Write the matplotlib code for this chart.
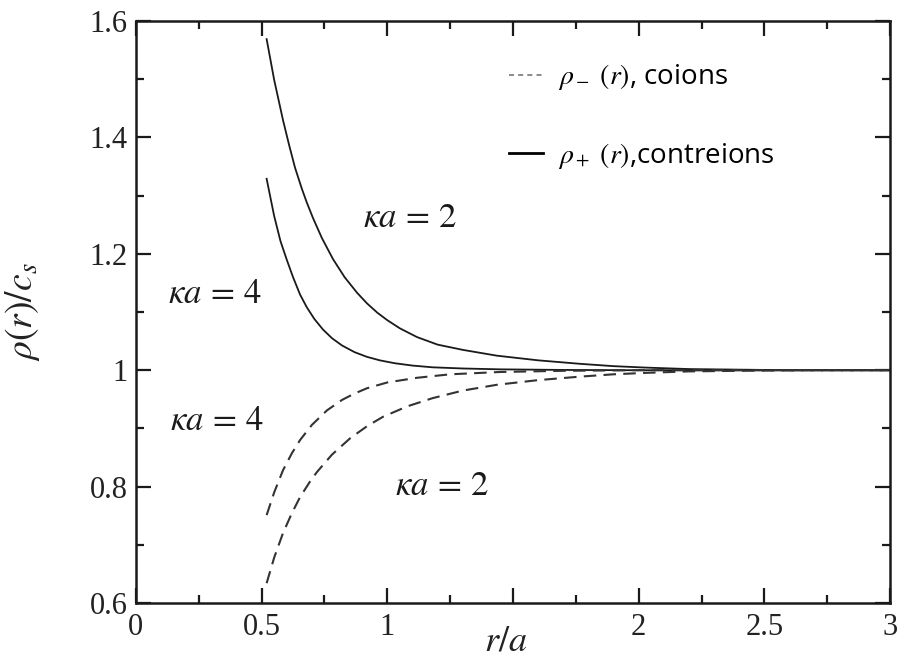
import numpy as np
import matplotlib
matplotlib.use('Agg')
import matplotlib.pyplot as plt
from matplotlib.lines import Line2D

plt.rcParams['mathtext.fontset'] = 'stix'

# values (r/a, rho/c_s)
r_plus2 = [0.52, 0.55, 0.585, 0.61, 0.633, 0.66, 0.68, 0.704, 0.74, 0.784, 0.83, 0.88, 0.919,
           0.96, 1.0, 1.05, 1.118, 1.2, 1.3, 1.436, 1.6, 1.767, 1.9, 2.03, 2.2, 2.4, 2.6, 3.0]
v_plus2 = [1.569, 1.499, 1.430, 1.386, 1.348, 1.312, 1.288, 1.262, 1.227, 1.191, 1.160, 1.133, 1.115,
           1.099, 1.086, 1.072, 1.057, 1.044, 1.035, 1.025, 1.017, 1.011, 1.007, 1.0045, 1.002, 1.001, 1.0, 1.0]

r_plus4 = [0.52, 0.55, 0.575, 0.60, 0.625, 0.653, 0.68, 0.71, 0.744, 0.78, 0.82, 0.87, 0.919,
           0.97, 1.03, 1.1, 1.18, 1.3, 1.45, 1.7, 2.0, 3.0]
v_plus4 = [1.329, 1.265, 1.222, 1.190, 1.160, 1.130, 1.108, 1.088, 1.070, 1.055, 1.0425, 1.031, 1.023,
           1.017, 1.012, 1.008, 1.005, 1.003, 1.0015, 1.0005, 1.0, 1.0]

r_minus4 = [0.52, 0.55, 0.585, 0.62, 0.653, 0.70, 0.76, 0.82, 0.87, 0.919, 1.0, 1.118, 1.25,
            1.45, 1.7, 2.0, 3.0]
v_minus4 = [0.751, 0.790, 0.828, 0.857, 0.880, 0.906, 0.931, 0.949, 0.960, 0.969, 0.979, 0.987, 0.993,
            0.997, 0.999, 1.0, 1.0]

r_minus2 = [0.52, 0.55, 0.585, 0.62, 0.653, 0.69, 0.72, 0.78, 0.852, 0.92, 0.983, 1.08, 1.18,
            1.3, 1.436, 1.6, 1.767, 1.9, 2.03, 2.2, 2.4, 2.7, 3.0]
v_minus2 = [0.634, 0.678, 0.720, 0.754, 0.782, 0.807, 0.825, 0.855, 0.883, 0.904, 0.920, 0.938, 0.952,
            0.965, 0.975, 0.983, 0.989, 0.993, 0.9955, 0.998, 0.999, 1.0, 1.0]

xtick_vals = [0, 0.5, 1, 1.5, 2, 2.5, 3]
xtick_labels = ['0', '0.5', '1', '', '2', '2.5', '3']
ytick_vals = [0.6, 0.8, 1.0, 1.2, 1.4, 1.6]
ytick_labels = ['0.6', '0.8', '1', '1.2', '1.4', '1.6']

labels = [(1.09, 1.263, r'$\kappa a\,=\,2$'),
          (0.314, 1.133, r'$\kappa a\,=\,4$'),
          (0.323, 0.914, r'$\kappa a\,=\,4$'),
          (1.218, 0.803, r'$\kappa a\,=\,2$')]

fig = plt.figure(figsize=(9, 6.59), dpi=100)
ax = fig.add_axes([0.151, 0.085, 0.838, 0.883])

ink = '#1a1a1a'
ax.plot(r_plus2, v_plus2, color=ink, lw=1.3)
ax.plot(r_plus4, v_plus4, color=ink, lw=1.3)
ax.plot(r_minus4, v_minus4, color='#333333', lw=1.5, dashes=(6, 3.5))
ax.plot(r_minus2, v_minus2, color='#333333', lw=1.5, dashes=(6, 3.5))

for x, y, t in labels:
    ax.text(x, y, t, fontsize=25, ha='center', va='center', color=ink)

ax.set_xlim(0, 3)
ax.set_ylim(0.6, 1.6)
ax.set_xticks(xtick_vals)
ax.set_xticklabels(xtick_labels)
ax.set_yticks(ytick_vals)
ax.set_yticklabels(ytick_labels)
ax.set_xticks(np.arange(0.25, 3, 0.5), minor=True)
ax.set_yticks(np.arange(0.7, 1.6, 0.2), minor=True)
ax.tick_params(which='both', direction='in', top=True, right=True, width=1.6, color=ink)
ax.tick_params(which='major', length=11, labelsize=22)
ax.tick_params(axis='x', which='major', pad=7)
ax.tick_params(axis='y', which='major', pad=6)
ax.tick_params(which='minor', length=5.5)
for lab in ax.get_xticklabels() + ax.get_yticklabels():
    lab.set_family('Liberation Serif')
    lab.set_color('#222222')
for s in ax.spines.values():
    s.set_linewidth(1.8)
    s.set_color(ink)

ax.set_xlabel(r'$r/a$', fontsize=26, color='#222222', va='center')
ax.xaxis.set_label_coords(0.49, -0.064)
ax.set_ylabel(r'$\rho(r)/c_s$', fontsize=27, color='#222222')
ax.yaxis.set_label_coords(-0.125, 0.5)

handles = [Line2D([], [], color='#777777', lw=1.2, dashes=(3, 2.5)),
           Line2D([], [], color='black', lw=2.0)]
names = [r'$\rho_-\ (r)$, coions', r'$\rho_+\ (r)$,contreions']
ax.legend(handles, names, loc='upper left', bbox_to_anchor=(0.462, 0.972),
          frameon=False, handlelength=1.2, handletextpad=0.55, labelspacing=1.75,
          prop={'family': 'Open Sans', 'size': 20})

fig.savefig('out.png', dpi=100)
